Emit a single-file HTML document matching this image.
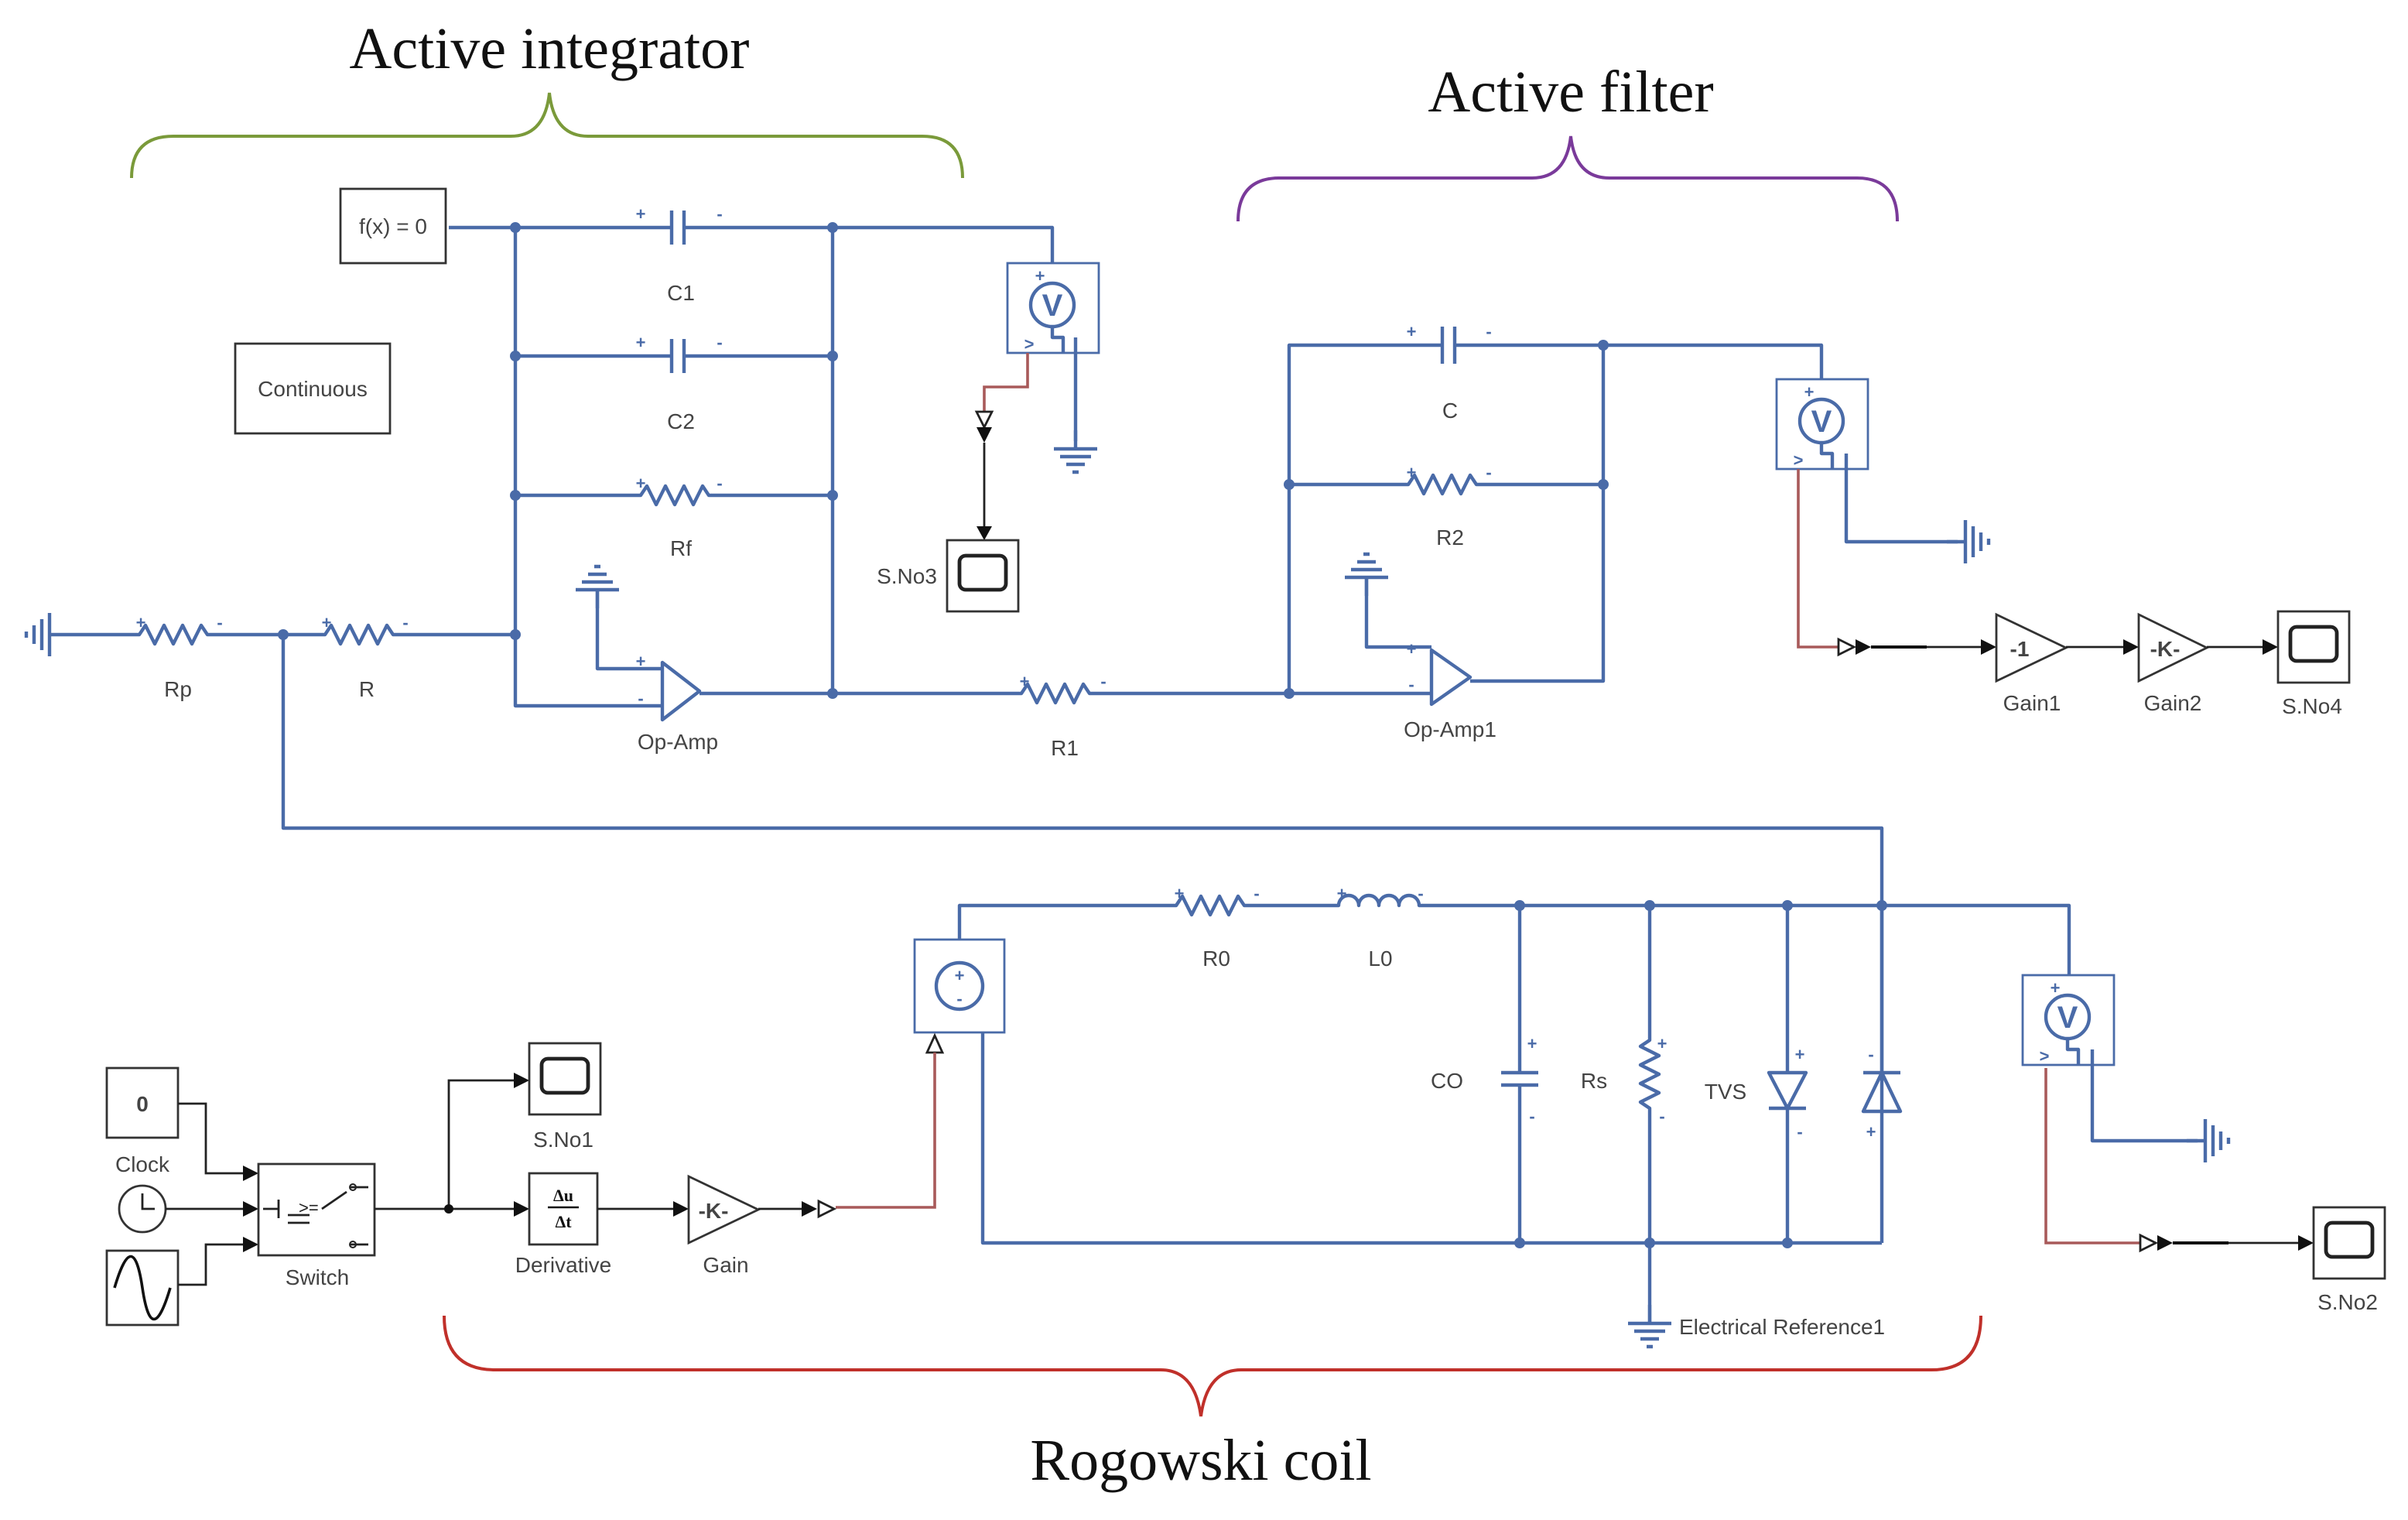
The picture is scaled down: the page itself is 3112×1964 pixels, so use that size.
<!DOCTYPE html>
<html><head><meta charset="utf-8"><style>
html,body{margin:0;padding:0;background:#fff;width:3112px;height:1964px;overflow:hidden}
svg{display:block}
.w{fill:none;stroke:#4a6ba8;stroke-width:2.2;stroke-linejoin:round}
.k{fill:none;stroke:#222;stroke-width:1.4}
.r{fill:none;stroke:#a85a5a;stroke-width:1.8}
.t{font-family:"Liberation Sans",sans-serif;font-size:14px;fill:#444;text-anchor:middle}
.p{font-family:"Liberation Sans",sans-serif;font-size:11px;fill:#4a6ba8;text-anchor:middle;font-weight:bold}
.h{font-family:"Liberation Serif",serif;font-size:38px;fill:#111;text-anchor:middle}
.d{fill:#4a6ba8}
</style></head><body>
<svg width="3112" height="1964" viewBox="0 0 1556 982" xmlns="http://www.w3.org/2000/svg">
<defs>
<g id="gnd"><path class="w" d="M0,0 V-12 M-14,0 H14 M-10,5 H10 M-6,10 H6 M-2,15 H2"/></g>
<g id="scope"><rect x="0" y="0" width="46" height="46" fill="#fff" stroke="#333" stroke-width="1.4"/><rect x="8" y="10" width="30" height="22" rx="4" fill="none" stroke="#222" stroke-width="2.4"/></g>
<g id="vm"><rect x="0" y="0" width="59" height="58" fill="#fff" stroke="#4a6ba8" stroke-width="1.4"/><circle cx="29" cy="27" r="14" fill="none" stroke="#4a6ba8" stroke-width="2.2"/><text x="29" y="34" font-family="Liberation Sans" font-size="20" fill="#4a6ba8" text-anchor="middle" font-weight="bold">V</text><text x="21" y="12" class="p">+</text><text x="14" y="56" class="p" font-size="13">&gt;</text><path class="w" d="M29,41 V48 H36 V58"/></g>
<polygon id="ah" points="0,-5 10,0 0,5" fill="#111"/>
</defs>

<text class="h" x="355" y="44">Active integrator</text>
<path d="M85,115 Q85,88 112,88 H330 Q352,88 355,60 Q358,88 380,88 H596 Q622,88 622,115" fill="none" stroke="#7a9a3a" stroke-width="2"/>
<text class="h" x="1015" y="72">Active filter</text>
<path d="M800,143 Q800,115 827,115 H990 Q1012,115 1015,88 Q1018,115 1040,115 H1200 Q1226,115 1226,143" fill="none" stroke="#7a3a9a" stroke-width="2"/>
<text class="h" x="776" y="956">Rogowski coil</text>
<path d="M287,850 Q287,885 320,885 H750 Q772,885 776,915 Q780,885 802,885 H1248 Q1280,885 1280,850" fill="none" stroke="#c0302a" stroke-width="2"/>

<rect x="220" y="122" width="68" height="48" fill="#fff" stroke="#333" stroke-width="1.4"/>
<text class="t" x="254" y="151" font-size="13">f(x) = 0</text>
<rect x="152" y="222" width="100" height="58" fill="#fff" stroke="#333" stroke-width="1.4"/>
<text class="t" x="202" y="256" font-size="13">Continuous</text>

<path class="w" d="M290,147 H434 M442,147 H680 V170"/>
<path class="w" d="M333,147 V456 H428 M538,147 V448"/>
<path class="w" d="M333,230 H434 M442,230 H538"/>
<path class="w" d="M434,136 V158 M442,136 V158 M434,219 V241 M442,219 V241" stroke-width="3.5"/>
<text class="p" x="414" y="142">+</text><text class="p" x="465" y="142">-</text>
<text class="p" x="414" y="225">+</text><text class="p" x="465" y="225">-</text>
<path class="w" d="M333,320 H414 l4,-6 6,12 6,-12 6,12 6,-12 6,12 6,-12 4,6 H538"/>
<text class="p" x="414" y="316">+</text><text class="p" x="465" y="316">-</text>
<text class="t" x="440" y="194">C1</text><text class="t" x="440" y="277">C2</text><text class="t" x="440" y="359">Rf</text>

<use href="#gnd" transform="translate(32,410) rotate(90)"/>
<path class="w" d="M44,410 H90 l4,-6 6,12 6,-12 6,12 6,-12 6,12 6,-12 4,6 H210 l4,-6 6,12 6,-12 6,12 6,-12 6,12 6,-12 4,6 H333"/>
<text class="p" x="91" y="406">+</text><text class="p" x="142" y="406">-</text>
<text class="p" x="211" y="406">+</text><text class="p" x="262" y="406">-</text>
<text class="t" x="115" y="450">Rp</text><text class="t" x="237" y="450">R</text>

<use href="#gnd" transform="translate(386,381) rotate(180)"/>
<path class="w" d="M386,381 V432 H428"/>
<path class="w" d="M428,428 V465 L452,446.5 Z" fill="#fff"/>
<path class="w" d="M452,448 H538"/>
<text class="p" x="414" y="431">+</text><text class="p" x="414" y="455">-</text>
<text class="t" x="438" y="484">Op-Amp</text>

<use href="#vm" x="651" y="170"/>
<path class="w" d="M695,218 V285"/>
<use href="#gnd" transform="translate(695,290)"/>
<path class="r" d="M664,228 V250 H636 V266"/>
<path d="M631,266 H641 L636,276 Z" fill="#fff" stroke="#222" stroke-width="1.4"/>
<path d="M631,276 H641 L636,286 Z" fill="#111"/>
<path class="k" d="M636,286 V340"/>
<polygon points="631,340 641,340 636,349" fill="#111"/>
<use href="#scope" x="612" y="349"/>
<text class="t" x="586" y="377">S.No3</text>

<path class="w" d="M538,448 H660 l4,-6 6,12 6,-12 6,12 6,-12 6,12 6,-12 4,6 H833"/>
<text class="p" x="662" y="444">+</text><text class="p" x="713" y="444">-</text>
<text class="t" x="688" y="488">R1</text>

<path class="w" d="M833,448 V223 H932 M940,223 H1177 V245"/>
<path class="w" d="M932,211 V235 M940,211 V235" stroke-width="3.5"/>
<text class="p" x="912" y="218">+</text><text class="p" x="962" y="218">-</text>
<path class="w" d="M833,313 H910 l4,-6 6,12 6,-12 6,12 6,-12 6,12 6,-12 4,6 H1036"/>
<text class="p" x="912" y="309">+</text><text class="p" x="962" y="309">-</text>
<path class="w" d="M1036,223 V440 H950"/>
<text class="t" x="937" y="270">C</text><text class="t" x="937" y="352">R2</text>
<use href="#gnd" transform="translate(883,373) rotate(180)"/>
<path class="w" d="M883,373 V418 H925 M833,448 H925"/>
<path class="w" d="M925,420 V455 L950,437.5 Z" fill="#fff"/>
<text class="p" x="912" y="423">+</text><text class="p" x="912" y="446">-</text>
<text class="t" x="937" y="476">Op-Amp1</text>

<use href="#vm" x="1148" y="245"/>
<path class="w" d="M1193,293 V350 H1265"/>
<use href="#gnd" transform="translate(1270,350) rotate(-90)"/>
<path class="r" d="M1162,303 V418 H1188"/>
<path d="M1188,413 L1198,418 L1188,423 Z" fill="#fff" stroke="#222" stroke-width="1.4"/>
<path d="M1199,413 L1209,418 L1199,423 Z" fill="#111"/>
<path d="M1209,418 H1245" stroke="#111" stroke-width="2"/>
<path class="k" d="M1245,418 H1280"/><use href="#ah" x="1280" y="418"/>
<path d="M1290,397 V440 L1335,418.5 Z" fill="#fff" stroke="#333" stroke-width="1.4"/>
<text class="t" x="1305" y="424" fill="#111" font-size="14" font-weight="bold">-1</text>
<path class="k" d="M1335,418 H1372"/><use href="#ah" x="1372" y="418"/>
<path d="M1382,397 V440 L1426,418.5 Z" fill="#fff" stroke="#333" stroke-width="1.4"/>
<text class="t" x="1399" y="424" fill="#111" font-size="14" font-weight="bold">-K-</text>
<path class="k" d="M1426,418 H1462"/><use href="#ah" x="1462" y="418"/>
<use href="#scope" x="1472" y="395"/>
<text class="t" x="1313" y="459">Gain1</text><text class="t" x="1404" y="459">Gain2</text><text class="t" x="1494" y="461">S.No4</text>

<path class="w" d="M183,410 V535 H1216 V803"/>

<rect x="591" y="607" width="58" height="60" fill="#fff" stroke="#4a6ba8" stroke-width="1.4"/>
<circle cx="620" cy="637" r="15" fill="none" stroke="#4a6ba8" stroke-width="2.2"/>
<text class="p" x="620" y="634" font-size="12">+</text><text class="p" x="620" y="649" font-size="12">-</text>
<path class="w" d="M620,607 V585 H760 l4,-6 6,12 6,-12 6,12 6,-12 6,12 6,-12 4,6 H865 a6.5,6.5 0 0 1 13,0 a6.5,6.5 0 0 1 13,0 a6.5,6.5 0 0 1 13,0 a6.5,6.5 0 0 1 13,0 H1337 V630"/>
<text class="p" x="762" y="581">+</text><text class="p" x="812" y="581">-</text>
<text class="p" x="867" y="581">+</text><text class="p" x="918" y="581">-</text>
<text class="t" x="786" y="624">R0</text><text class="t" x="892" y="624">L0</text>
<path class="w" d="M635,667 V803 H1216"/>
<path class="w" d="M982,585 V693 M982,701 V803"/>
<path class="w" d="M970,693 H994 M970,701 H994" stroke-width="3.5"/>
<path class="w" d="M1066,585 V672 l-6,4 12,6 -12,6 12,6 -12,6 12,6 -12,6 6,4 V855"/>
<path class="w" d="M1155,585 V693 M1143,693 H1167 L1155,716 Z M1143,716 H1167 M1155,716 V803"/>
<path class="w" d="M1216,585 V693 M1204,693 H1228 M1216,693 L1204,718 H1228 Z"/>
<text class="p" x="990" y="678">+</text><text class="p" x="990" y="725">-</text>
<text class="p" x="1074" y="678">+</text><text class="p" x="1074" y="725">-</text>
<text class="p" x="1163" y="685">+</text><text class="p" x="1163" y="735">-</text>
<text class="p" x="1209" y="685">-</text><text class="p" x="1209" y="735">+</text>
<text class="t" x="935" y="703">CO</text><text class="t" x="1030" y="703">Rs</text><text class="t" x="1115" y="710">TVS</text>
<use href="#gnd" transform="translate(1066,855)"/>
<text class="t" x="1085" y="862" style="text-anchor:start">Electrical Reference1</text>
<g>
<circle class="d" cx="333" cy="147" r="3.5"/><circle class="d" cx="538" cy="147" r="3.5"/>
<circle class="d" cx="333" cy="230" r="3.5"/><circle class="d" cx="538" cy="230" r="3.5"/>
<circle class="d" cx="333" cy="320" r="3.5"/><circle class="d" cx="538" cy="320" r="3.5"/>
<circle class="d" cx="333" cy="410" r="3.5"/><circle class="d" cx="183" cy="410" r="3.5"/>
<circle class="d" cx="538" cy="448" r="3.5"/><circle class="d" cx="833" cy="448" r="3.5"/>
<circle class="d" cx="833" cy="313" r="3.5"/><circle class="d" cx="1036" cy="313" r="3.5"/><circle class="d" cx="1036" cy="223" r="3.5"/>
<circle class="d" cx="982" cy="585" r="3.5"/><circle class="d" cx="1066" cy="585" r="3.5"/><circle class="d" cx="1155" cy="585" r="3.5"/><circle class="d" cx="1216" cy="585" r="3.5"/>
<circle class="d" cx="982" cy="803" r="3.5"/><circle class="d" cx="1066" cy="803" r="3.5"/><circle class="d" cx="1155" cy="803" r="3.5"/>
</g>

<use href="#vm" x="1307" y="630"/>
<path class="w" d="M1352,678 V737 H1420"/>
<use href="#gnd" transform="translate(1425,737) rotate(-90)"/>
<path class="r" d="M1322,690 V803 H1383"/>
<path d="M1383,798 L1393,803 L1383,808 Z" fill="#fff" stroke="#222" stroke-width="1.4"/>
<path d="M1394,798 L1404,803 L1394,808 Z" fill="#111"/>
<path d="M1404,803 H1440" stroke="#111" stroke-width="2"/>
<path class="k" d="M1440,803 H1485"/><use href="#ah" x="1485" y="803"/>
<use href="#scope" x="1495" y="780"/>
<text class="t" x="1517" y="846">S.No2</text>

<path d="M599,680 L604,669 L609,680 Z" fill="#fff" stroke="#222" stroke-width="1.4"/>
<path class="r" d="M604,680 V780 H540"/>
<path d="M518,776 L528,781 L518,786 Z" fill="#111"/>
<path d="M529,776 L539,781 L529,786 Z" fill="#fff" stroke="#222" stroke-width="1.4"/>

<rect x="69" y="690" width="46" height="45" fill="#fff" stroke="#333" stroke-width="1.4"/>
<text class="t" x="92" y="718" fill="#111" font-weight="bold">0</text>
<text class="t" x="92" y="757">Clock</text>
<circle cx="92" cy="781" r="15" fill="#fff" stroke="#333" stroke-width="1.4"/>
<path class="k" d="M92,771 V781 H100"/>
<rect x="69" y="808" width="46" height="48" fill="#fff" stroke="#333" stroke-width="1.4"/>
<path d="M74,832 C82,805 88,805 92,832 C96,859 102,859 110,832" fill="none" stroke="#111" stroke-width="1.8"/>
<path class="k" d="M115,713 H133 V758 H157 M107,781 H157 M115,830 H133 V804 H157"/>
<use href="#ah" x="157" y="758"/><use href="#ah" x="157" y="781"/><use href="#ah" x="157" y="804"/>
<rect x="167" y="752" width="75" height="59" fill="#fff" stroke="#333" stroke-width="1.4"/>
<path class="k" d="M170,781 H180 M180,775 V787 M186,785 H200 M186,790 H200 M208,781 L224,770 M226,767 H238 M226,804 H238"/>
<text x="193" y="784" font-family="Liberation Sans" font-size="11" fill="#222">&gt;=</text>
<circle cx="228" cy="767" r="2" fill="none" stroke="#222"/><circle cx="228" cy="804" r="2" fill="none" stroke="#222"/>
<text class="t" x="205" y="830">Switch</text>
<path class="k" d="M242,781 H332 M290,781 V698 H332"/>
<circle cx="290" cy="781" r="3" fill="#111"/>
<use href="#ah" x="332" y="698"/><use href="#ah" x="332" y="781"/>
<use href="#scope" x="342" y="674"/>
<text class="t" x="364" y="741">S.No1</text>
<rect x="342" y="758" width="44" height="46" fill="#fff" stroke="#333" stroke-width="1.4"/>
<text x="364" y="776" font-family="Liberation Serif" font-size="11" fill="#111" text-anchor="middle" font-weight="bold">Δu</text>
<path d="M354,780 H374" stroke="#111" stroke-width="1.2"/>
<text x="364" y="793" font-family="Liberation Serif" font-size="11" fill="#111" text-anchor="middle" font-weight="bold">Δt</text>
<text class="t" x="364" y="822">Derivative</text>
<path class="k" d="M386,781 H435"/><use href="#ah" x="435" y="781"/>
<path d="M445,760 V803 L490,781.5 Z" fill="#fff" stroke="#333" stroke-width="1.4"/>
<text class="t" x="461" y="787" fill="#111" font-weight="bold">-K-</text>
<text class="t" x="469" y="822">Gain</text>
<path class="k" d="M490,781 H518"/>
</svg>
</body></html>
